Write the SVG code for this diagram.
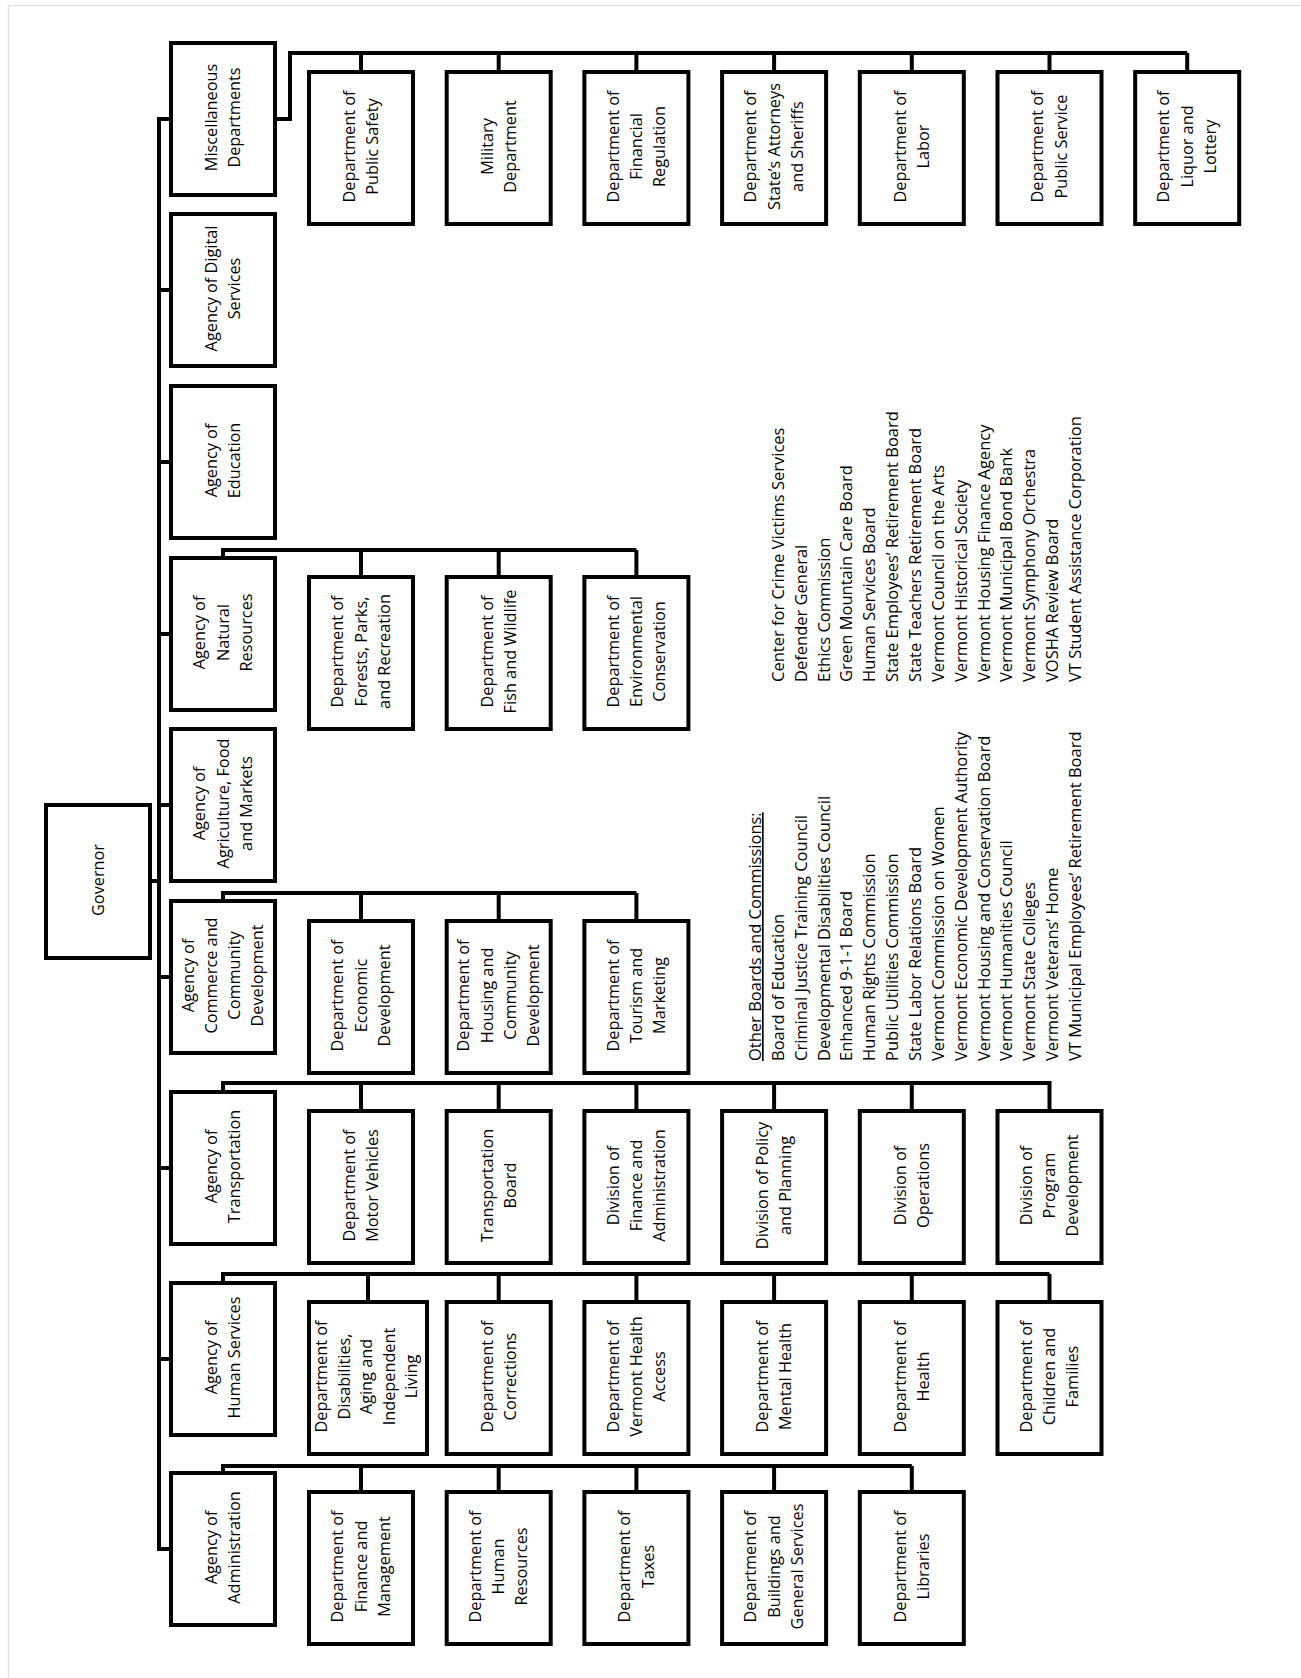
<svg xmlns="http://www.w3.org/2000/svg" width="1301" height="1678" viewBox="0 0 1301 1678">
<style>
.box{fill:#fff;stroke:#000;stroke-width:4}
.ln{fill:none;stroke:#000;stroke-width:4;stroke-linejoin:miter}
.lbl{font-family:"Open Sans","Noto Sans",sans-serif;font-size:16.3px;text-anchor:middle;fill:#000}
.lst{font-family:"Open Sans","Noto Sans",sans-serif;font-size:16.5px;fill:#000}
</style>
<rect x="0" y="0" width="1301" height="1678" fill="#fff"/>
<path d="M8.5,1678 V5.5 H1301" fill="none" stroke="#e2e2e2" stroke-width="1.5"/>

<g id="connectors">
<path class="ln" d="M150,881 H159"/>
<path class="ln" d="M171,119 H159 V1549 H171"/>
<path class="ln" d="M159,290 H171 M159,462 H171 M159,634 H171 M159,805 H171 M159,977 H171 M159,1168 H171 M159,1359 H171"/>
<path class="ln" d="M277,119 H290 V53 H1187.2"/>
<path class="ln" d="M361,53 V72 M498.7,53 V72 M636.4,53 V72 M774.1,53 V72 M911.8,53 V72 M1049.5,53 V72 M1187.2,53 V72"/>
<path class="ln" d="M223,558 V550 H636.4"/>
<path class="ln" d="M361,550 V577 M498.7,550 V577 M636.4,550 V577"/>
<path class="ln" d="M223,901 V893 H636.4"/>
<path class="ln" d="M361,893 V921 M498.7,893 V921 M636.4,893 V921"/>
<path class="ln" d="M223,1092 V1083 H1049.5"/>
<path class="ln" d="M361,1083 V1111 M498.7,1083 V1111 M636.4,1083 V1111 M774.1,1083 V1111 M911.8,1083 V1111 M1049.5,1081 V1111"/>
<path class="ln" d="M223,1283 V1274 H1049.5"/>
<path class="ln" d="M368,1274 V1302 M498.7,1274 V1302 M636.4,1274 V1302 M774.1,1274 V1302 M911.8,1274 V1302 M1049.5,1274 V1302"/>
<path class="ln" d="M223,1473 V1466 H911.8"/>
<path class="ln" d="M361,1466 V1492 M498.7,1466 V1492 M636.4,1466 V1492 M774.1,1466 V1492 M911.8,1466 V1492"/>
</g>

<g id="governor"><rect class="box" x="46" y="805" width="104" height="153"/><text class="lbl" transform="translate(98,881.5) rotate(-90)"><tspan x="1.5" y="5.5">Governor</tspan></text></g>

<g id="misc"><rect class="box" x="171" y="43" width="104" height="152"/><text class="lbl" transform="translate(223,119) rotate(-90)"><tspan x="1.5" y="-6.15">Miscellaneous</tspan><tspan x="1.5" y="17.15">Departments</tspan></text></g>
<g id="digital"><rect class="box" x="171" y="214" width="104" height="152"/><text class="lbl" transform="translate(223,290) rotate(-90)"><tspan x="1.5" y="-6.15">Agency of Digital</tspan><tspan x="1.5" y="17.15">Services</tspan></text></g>
<g id="education"><rect class="box" x="171" y="386" width="104" height="152"/><text class="lbl" transform="translate(223,462) rotate(-90)"><tspan x="1.5" y="-6.15">Agency of</tspan><tspan x="1.5" y="17.15">Education</tspan></text></g>
<g id="natural"><rect class="box" x="171" y="558" width="104" height="152"/><text class="lbl" transform="translate(223,634) rotate(-90)"><tspan x="1.5" y="-17.8">Agency of</tspan><tspan x="1.5" y="5.5">Natural</tspan><tspan x="1.5" y="28.8">Resources</tspan></text></g>
<g id="agriculture"><rect class="box" x="171" y="729" width="104" height="152"/><text class="lbl" transform="translate(223,805) rotate(-90)"><tspan x="1.5" y="-17.8">Agency of</tspan><tspan x="1.5" y="5.5">Agriculture, Food</tspan><tspan x="1.5" y="28.8">and Markets</tspan></text></g>
<g id="commerce"><rect class="box" x="171" y="901" width="104" height="152"/><text class="lbl" transform="translate(223,977) rotate(-90)"><tspan x="1.5" y="-29.45">Agency of</tspan><tspan x="1.5" y="-6.15">Commerce and</tspan><tspan x="1.5" y="17.15">Community</tspan><tspan x="1.5" y="40.45">Development</tspan></text></g>
<g id="transportation"><rect class="box" x="171" y="1092" width="104" height="152"/><text class="lbl" transform="translate(223,1168) rotate(-90)"><tspan x="1.5" y="-6.15">Agency of</tspan><tspan x="1.5" y="17.15">Transportation</tspan></text></g>
<g id="human-services"><rect class="box" x="171" y="1283" width="104" height="152"/><text class="lbl" transform="translate(223,1359) rotate(-90)"><tspan x="1.5" y="-6.15">Agency of</tspan><tspan x="1.5" y="17.15">Human Services</tspan></text></g>
<g id="administration"><rect class="box" x="171" y="1473" width="104" height="152"/><text class="lbl" transform="translate(223,1549) rotate(-90)"><tspan x="1.5" y="-6.15">Agency of</tspan><tspan x="1.5" y="17.15">Administration</tspan></text></g>

<g id="public-safety"><rect class="box" x="309" y="72" width="104" height="152"/><text class="lbl" transform="translate(361,148) rotate(-90)"><tspan x="1.5" y="-6.15">Department of</tspan><tspan x="1.5" y="17.15">Public Safety</tspan></text></g>
<g id="military"><rect class="box" x="446.7" y="72" width="104" height="152"/><text class="lbl" transform="translate(498.7,148) rotate(-90)"><tspan x="1.5" y="-6.15">Military</tspan><tspan x="1.5" y="17.15">Department</tspan></text></g>
<g id="financial-regulation"><rect class="box" x="584.4" y="72" width="104" height="152"/><text class="lbl" transform="translate(636.4,148) rotate(-90)"><tspan x="1.5" y="-17.8">Department of</tspan><tspan x="1.5" y="5.5">Financial</tspan><tspan x="1.5" y="28.8">Regulation</tspan></text></g>
<g id="states-attorneys"><rect class="box" x="722.1" y="72" width="104" height="152"/><text class="lbl" transform="translate(774.1,148) rotate(-90)"><tspan x="1.5" y="-17.8">Department of</tspan><tspan x="1.5" y="5.5">State’s Attorneys</tspan><tspan x="1.5" y="28.8">and Sheriffs</tspan></text></g>
<g id="labor"><rect class="box" x="859.8" y="72" width="104" height="152"/><text class="lbl" transform="translate(911.8,148) rotate(-90)"><tspan x="1.5" y="-6.15">Department of</tspan><tspan x="1.5" y="17.15">Labor</tspan></text></g>
<g id="public-service"><rect class="box" x="997.5" y="72" width="104" height="152"/><text class="lbl" transform="translate(1049.5,148) rotate(-90)"><tspan x="1.5" y="-6.15">Department of</tspan><tspan x="1.5" y="17.15">Public Service</tspan></text></g>
<g id="liquor-lottery"><rect class="box" x="1135.2" y="72" width="104" height="152"/><text class="lbl" transform="translate(1187.2,148) rotate(-90)"><tspan x="1.5" y="-17.8">Department of</tspan><tspan x="1.5" y="5.5">Liquor and</tspan><tspan x="1.5" y="28.8">Lottery</tspan></text></g>

<g id="forests-parks"><rect class="box" x="309" y="577" width="104" height="152"/><text class="lbl" transform="translate(361,653) rotate(-90)"><tspan x="1.5" y="-17.8">Department of</tspan><tspan x="1.5" y="5.5">Forests, Parks,</tspan><tspan x="1.5" y="28.8">and Recreation</tspan></text></g>
<g id="fish-wildlife"><rect class="box" x="446.7" y="577" width="104" height="152"/><text class="lbl" transform="translate(498.7,653) rotate(-90)"><tspan x="1.5" y="-6.15">Department of</tspan><tspan x="1.5" y="17.15">Fish and Wildlife</tspan></text></g>
<g id="environmental"><rect class="box" x="584.4" y="577" width="104" height="152"/><text class="lbl" transform="translate(636.4,653) rotate(-90)"><tspan x="1.5" y="-17.8">Department of</tspan><tspan x="1.5" y="5.5">Environmental</tspan><tspan x="1.5" y="28.8">Conservation</tspan></text></g>

<g id="economic-development"><rect class="box" x="309" y="921" width="104" height="152"/><text class="lbl" transform="translate(361,997) rotate(-90)"><tspan x="1.5" y="-17.8">Department of</tspan><tspan x="1.5" y="5.5">Economic</tspan><tspan x="1.5" y="28.8">Development</tspan></text></g>
<g id="housing-community"><rect class="box" x="446.7" y="921" width="104" height="152"/><text class="lbl" transform="translate(498.7,997) rotate(-90)"><tspan x="1.5" y="-29.45">Department of</tspan><tspan x="1.5" y="-6.15">Housing and</tspan><tspan x="1.5" y="17.15">Community</tspan><tspan x="1.5" y="40.45">Development</tspan></text></g>
<g id="tourism-marketing"><rect class="box" x="584.4" y="921" width="104" height="152"/><text class="lbl" transform="translate(636.4,997) rotate(-90)"><tspan x="1.5" y="-17.8">Department of</tspan><tspan x="1.5" y="5.5">Tourism and</tspan><tspan x="1.5" y="28.8">Marketing</tspan></text></g>

<g id="motor-vehicles"><rect class="box" x="309" y="1111" width="104" height="152"/><text class="lbl" transform="translate(361,1187) rotate(-90)"><tspan x="1.5" y="-6.15">Department of</tspan><tspan x="1.5" y="17.15">Motor Vehicles</tspan></text></g>
<g id="transportation-board"><rect class="box" x="446.7" y="1111" width="104" height="152"/><text class="lbl" transform="translate(498.7,1187) rotate(-90)"><tspan x="1.5" y="-6.15">Transportation</tspan><tspan x="1.5" y="17.15">Board</tspan></text></g>
<g id="finance-administration"><rect class="box" x="584.4" y="1111" width="104" height="152"/><text class="lbl" transform="translate(636.4,1187) rotate(-90)"><tspan x="1.5" y="-17.8">Division of</tspan><tspan x="1.5" y="5.5">Finance and</tspan><tspan x="1.5" y="28.8">Administration</tspan></text></g>
<g id="policy-planning"><rect class="box" x="722.1" y="1111" width="104" height="152"/><text class="lbl" transform="translate(774.1,1187) rotate(-90)"><tspan x="1.5" y="-6.15">Division of Policy</tspan><tspan x="1.5" y="17.15">and Planning</tspan></text></g>
<g id="operations"><rect class="box" x="859.8" y="1111" width="104" height="152"/><text class="lbl" transform="translate(911.8,1187) rotate(-90)"><tspan x="1.5" y="-6.15">Division of</tspan><tspan x="1.5" y="17.15">Operations</tspan></text></g>
<g id="program-development"><rect class="box" x="997.5" y="1111" width="104" height="152"/><text class="lbl" transform="translate(1049.5,1187) rotate(-90)"><tspan x="1.5" y="-17.8">Division of</tspan><tspan x="1.5" y="5.5">Program</tspan><tspan x="1.5" y="28.8">Development</tspan></text></g>

<g id="disabilities"><rect class="box" x="309" y="1302" width="118" height="152"/><text class="lbl" transform="translate(368,1378) rotate(-90)"><tspan x="1.5" y="-41">Department of</tspan><tspan x="1.5" y="-18.5">Disabilities,</tspan><tspan x="1.5" y="4">Aging and</tspan><tspan x="1.5" y="26.5">Independent</tspan><tspan x="1.5" y="49">Living</tspan></text></g>
<g id="corrections"><rect class="box" x="446.7" y="1302" width="104" height="152"/><text class="lbl" transform="translate(498.7,1378) rotate(-90)"><tspan x="1.5" y="-6.15">Department of</tspan><tspan x="1.5" y="17.15">Corrections</tspan></text></g>
<g id="vermont-health-access"><rect class="box" x="584.4" y="1302" width="104" height="152"/><text class="lbl" transform="translate(636.4,1378) rotate(-90)"><tspan x="1.5" y="-17.8">Department of</tspan><tspan x="1.5" y="5.5">Vermont Health</tspan><tspan x="1.5" y="28.8">Access</tspan></text></g>
<g id="mental-health"><rect class="box" x="722.1" y="1302" width="104" height="152"/><text class="lbl" transform="translate(774.1,1378) rotate(-90)"><tspan x="1.5" y="-6.15">Department of</tspan><tspan x="1.5" y="17.15">Mental Health</tspan></text></g>
<g id="health"><rect class="box" x="859.8" y="1302" width="104" height="152"/><text class="lbl" transform="translate(911.8,1378) rotate(-90)"><tspan x="1.5" y="-6.15">Department of</tspan><tspan x="1.5" y="17.15">Health</tspan></text></g>
<g id="children-families"><rect class="box" x="997.5" y="1302" width="104" height="152"/><text class="lbl" transform="translate(1049.5,1378) rotate(-90)"><tspan x="1.5" y="-17.8">Department of</tspan><tspan x="1.5" y="5.5">Children and</tspan><tspan x="1.5" y="28.8">Families</tspan></text></g>

<g id="finance-management"><rect class="box" x="309" y="1492" width="104" height="152"/><text class="lbl" transform="translate(361,1568) rotate(-90)"><tspan x="1.5" y="-17.8">Department of</tspan><tspan x="1.5" y="5.5">Finance and</tspan><tspan x="1.5" y="28.8">Management</tspan></text></g>
<g id="human-resources"><rect class="box" x="446.7" y="1492" width="104" height="152"/><text class="lbl" transform="translate(498.7,1568) rotate(-90)"><tspan x="1.5" y="-17.8">Department of</tspan><tspan x="1.5" y="5.5">Human</tspan><tspan x="1.5" y="28.8">Resources</tspan></text></g>
<g id="taxes"><rect class="box" x="584.4" y="1492" width="104" height="152"/><text class="lbl" transform="translate(636.4,1568) rotate(-90)"><tspan x="1.5" y="-6.15">Department of</tspan><tspan x="1.5" y="17.15">Taxes</tspan></text></g>
<g id="buildings"><rect class="box" x="722.1" y="1492" width="104" height="152"/><text class="lbl" transform="translate(774.1,1568) rotate(-90)"><tspan x="1.5" y="-17.8">Department of</tspan><tspan x="1.5" y="5.5">Buildings and</tspan><tspan x="1.5" y="28.8">General Services</tspan></text></g>
<g id="libraries"><rect class="box" x="859.8" y="1492" width="104" height="152"/><text class="lbl" transform="translate(911.8,1568) rotate(-90)"><tspan x="1.5" y="-6.15">Department of</tspan><tspan x="1.5" y="17.15">Libraries</tspan></text></g>

<g id="other-boards">
<text class="lst" transform="translate(0,1061) rotate(-90)">
<tspan x="0" y="761" style="text-decoration:underline">Other Boards and Commissions:</tspan>
<tspan x="0" y="783.86">Board of Education</tspan>
<tspan x="0" y="806.72">Criminal Justice Training Council</tspan>
<tspan x="0" y="829.58">Developmental Disabilities Council</tspan>
<tspan x="0" y="852.44">Enhanced 9-1-1 Board</tspan>
<tspan x="0" y="875.3">Human Rights Commission</tspan>
<tspan x="0" y="898.16">Public Utilities Commission</tspan>
<tspan x="0" y="921.02">State Labor Relations Board</tspan>
<tspan x="0" y="943.88">Vermont Commission on Women</tspan>
<tspan x="0" y="966.74">Vermont Economic Development Authority</tspan>
<tspan x="0" y="989.6">Vermont Housing and Conservation Board</tspan>
<tspan x="0" y="1012.46">Vermont Humanities Council</tspan>
<tspan x="0" y="1035.32">Vermont State Colleges</tspan>
<tspan x="0" y="1058.18">Vermont Veterans’ Home</tspan>
<tspan x="0" y="1081.04">VT Municipal Employees’ Retirement Board</tspan>
</text>
<text class="lst" transform="translate(0,682) rotate(-90)">
<tspan x="0" y="783.86">Center for Crime Victims Services</tspan>
<tspan x="0" y="806.72">Defender General</tspan>
<tspan x="0" y="829.58">Ethics Commission</tspan>
<tspan x="0" y="852.44">Green Mountain Care Board</tspan>
<tspan x="0" y="875.3">Human Services Board</tspan>
<tspan x="0" y="898.16">State Employees’ Retirement Board</tspan>
<tspan x="0" y="921.02">State Teachers Retirement Board</tspan>
<tspan x="0" y="943.88">Vermont Council on the Arts</tspan>
<tspan x="0" y="966.74">Vermont Historical Society</tspan>
<tspan x="0" y="989.6">Vermont Housing Finance Agency</tspan>
<tspan x="0" y="1012.46">Vermont Municipal Bond Bank</tspan>
<tspan x="0" y="1035.32">Vermont Symphony Orchestra</tspan>
<tspan x="0" y="1058.18">VOSHA Review Board</tspan>
<tspan x="0" y="1081.04">VT Student Assistance Corporation</tspan>
</text>
</g>
</svg>
